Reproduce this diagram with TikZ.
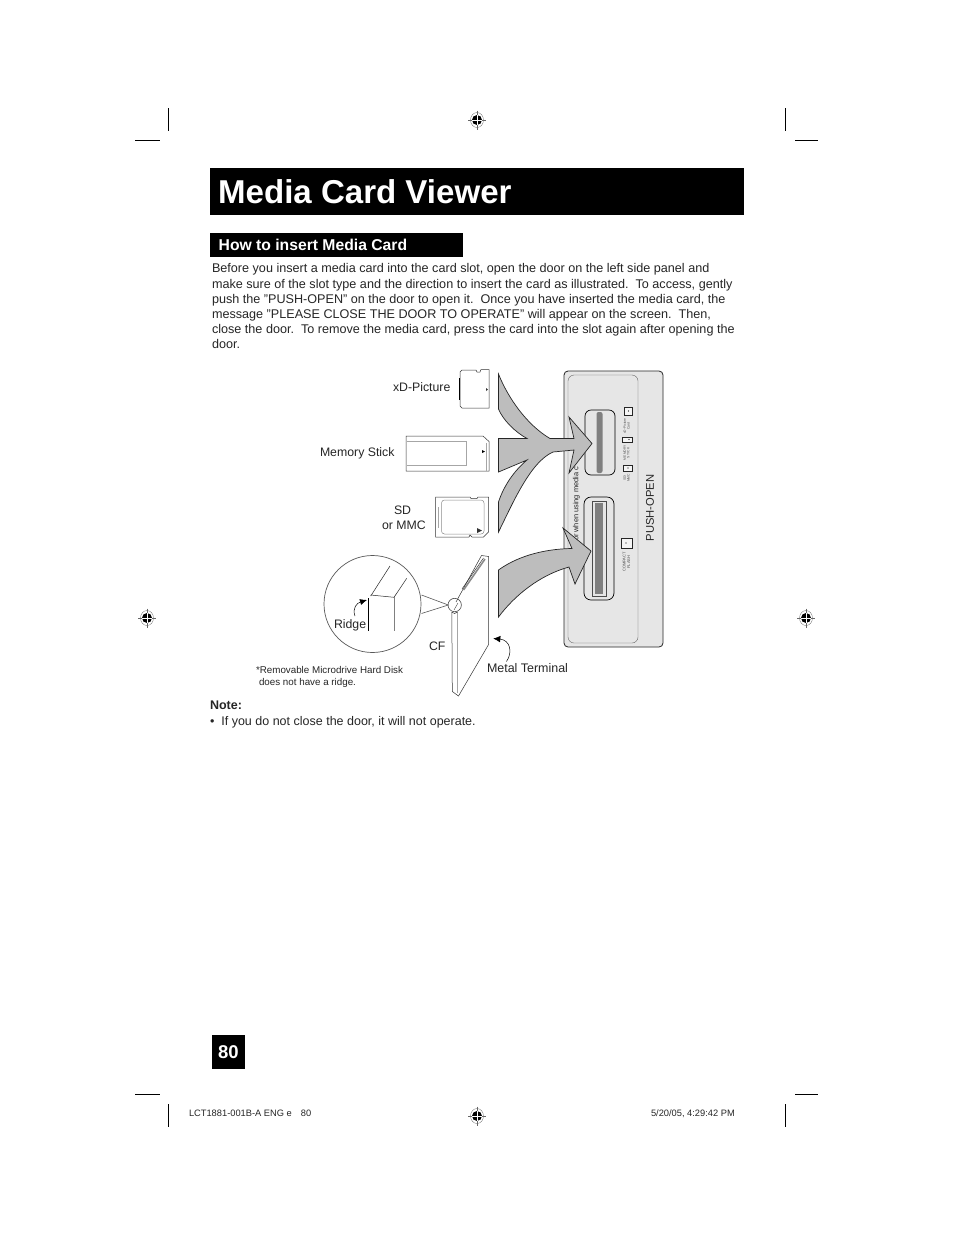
\documentclass[tikz,border=0pt]{standalone}
\usepackage{fontspec}
\setmainfont{Liberation Sans}
\usetikzlibrary{arrows.meta}
\definecolor{panelgray}{HTML}{E6E6E6}
\definecolor{arrowgray}{HTML}{BDBDBD}
\definecolor{slotgray}{HTML}{808080}
\tikzset{
  x=1pt,y=-1pt,
  txt/.style={anchor=base west,inner sep=0pt,outer sep=0pt,font=\fontsize{12.62}{14}\selectfont,text=black!85},
  lbl/.style={txt,font=\fontsize{12.3}{14}\selectfont},
  tiny/.style={txt,font=\fontsize{9.8}{11}\selectfont},
  slug/.style={txt,font=\fontsize{9.3}{11}\selectfont},
  micro/.style={anchor=center,inner sep=0pt,font=\fontsize{3.3}{3.7}\selectfont,rotate=90,align=center,text=black!70},
  bigarrow/.style={draw=black!85,fill=arrowgray,line width=.7pt,line join=miter},
  cardline/.style={draw=black!80,line width=.5pt},
  softline/.style={draw=black!35,line width=.7pt},
  icon/.style={draw=black!85,line width=.45pt,fill=panelgray!40},
  crop/.style={draw=black,line width=.7pt},
  regmark/.pic={
    \draw[black!60,line width=.3pt] (0,0) ellipse (6.5 and 7.5);
    \draw[black!60,line width=.3pt] (-9,0)--(9,0) (0,-9.5)--(0,9.5);
    \fill[black] (0,0) circle (5);
    \draw[white,line width=.9pt] (-5,0)--(5,0) (0,-5)--(0,5);
  }
}
\begin{document}
\begin{tikzpicture}
\useasboundingbox (0,0) rectangle (954,1235);
\fill[white] (0,0) rectangle (954,1235);

% crop marks
\draw[crop] (168.5,108)--(168.5,131) (785.5,108)--(785.5,131)
            (135,140.5)--(160,140.5) (795,140.5)--(818,140.5)
            (168.5,1104)--(168.5,1127) (785.5,1104)--(785.5,1127)
            (135,1094.5)--(160,1094.5) (795,1094.5)--(818,1094.5);
\pic at (477,120) {regmark};
\pic at (477,1116) {regmark};
\pic at (147,618) {regmark};
\pic at (806,618) {regmark};

% title
\fill[black] (210,168) rectangle (744,215);
\node[anchor=base west,inner sep=0pt,text=white,font=\fontsize{33.05}{36}\bfseries\selectfont] (title) at (218,203.5) {Media Card Viewer};
\fill[black] (210,233) rectangle (463,257);
\node[anchor=base west,inner sep=0pt,text=white,font=\fontsize{15.7}{17}\bfseries\selectfont] (head) at (218.5,250) {How to insert Media Card};

% body
\node[txt] (b1) at (212,272) {Before you insert a media card into the card slot, open the door on the left side panel and};
\node[txt] (b2) at (212,288) {make sure of the slot type and the direction to insert the card as illustrated.\ \ To access, gently};
\node[txt] (b3) at (212,303) {push the "PUSH-OPEN" on the door to open it.\ \ Once you have inserted the media card, the};
\node[txt] (b4) at (212,318) {message "PLEASE CLOSE THE DOOR TO OPERATE" will appear on the screen.\ \ Then,};
\node[txt] (b5) at (212,333) {close the door.\ \ To remove the media card, press the card into the slot again after opening the};
\node[txt] (b6) at (212,348) {door.};

% panel
\draw[draw=black!85,fill=panelgray,line width=.8pt,rounded corners=4pt] (564,371) rectangle (663,647);
\draw[draw=black!60,line width=.4pt,rounded corners=6pt] (568,375) rectangle (638,643);
\node[anchor=center,inner sep=0pt,rotate=90,font=\fontsize{11.2}{13}\selectfont,text=black!85] (push) at (650,508) {PUSH-OPEN};
\node[anchor=center,inner sep=0pt,rotate=90,font=\fontsize{7.4}{9}\selectfont,text=black!85] (note2) at (576.5,505) {for when using media c};

% slots
\draw[black,line width=.7pt,fill=panelgray,rounded corners=6pt] (585,410) rectangle (615,475);
\fill[slotgray,rounded corners=2pt] (596.5,412) rectangle (602.5,473);
\draw[black,line width=.7pt,fill=panelgray,rounded corners=7pt] (584,497) rectangle (614,600);
\draw[black!70,line width=.4pt] (592,501) rectangle (606,596);
\fill[slotgray] (595,503) rectangle (603,594);

% mini icons
\draw[icon] (624.5,407) rectangle (632,415);
\fill[black] (628.5,411) circle (.6);
\draw[icon] (622,437) rectangle (632,442);
\fill[black] (629,439.5) circle (.6);
\draw[icon] (623,465) rectangle (632,471);
\fill[black] (628,468) circle (.6);
\draw[icon] (621,538) rectangle (632,548);
\fill[black] (626,543) circle (.7);
\node[micro] (m1) at (626.5,426) {xD-Picture\\Card};
\node[micro] (m2) at (626.5,453) {M EMORY\\S TICK};
\node[micro] (m3) at (626.5,478) {SD/\\MMC};
\node[micro,font=\fontsize{4}{4.6}\selectfont] (m4) at (626.5,562) {COMPACT\\FLASH};

% big arrows
\draw[bigarrow] (498.5,374)
  .. controls (508,398) and (527,425) .. (550,438.5)
  -- (574,438.5) -- (569,417) -- (592,443.5) -- (569,473) -- (574,450)
  -- (553,452)
  .. controls (530,462) and (512,505) .. (498.5,532)
  -- (498.5,502)
  .. controls (504,485) and (515,470) .. (527,460)
  -- (498.5,472) -- (498.5,438.5) -- (527,438.5)
  .. controls (515,432) and (503,420) .. (498.5,409)
  -- cycle;
\draw[bigarrow] (498.5,570)
  .. controls (515,558) and (540,549) .. (572,548.5)
  -- (563,528) -- (591,551) -- (575,584) -- (569,567)
  .. controls (540,575) and (515,595) .. (498.5,617)
  -- cycle;

% xD card
\draw[cardline] (460,372) -- (462,370) -- (476,370) -- (477,372) -- (480,372) -- (481,369.5) -- (489,369.5) -- (489,408) -- (462,408) -- (460,406) -- cycle;
\draw[black,line width=.6pt] (458.8,378) -- (458.8,400);
\fill[black!80] (486,388) -- (488,389.5) -- (486,391) -- cycle;
\node[lbl] (xd) at (393,391) {xD-Picture};

% memory stick
\draw[cardline] (406,436) -- (483,436) -- (489,441.5) -- (489,471) -- (406,471) -- cycle;
\draw[softline] (407,441) -- (466.5,441) -- (466.5,465.5) -- (407,465.5);
\draw[softline] (486,443) -- (486,471);
\fill[black] (482,450) -- (485,451.5) -- (482,453) -- cycle;
\node[lbl] (ms) at (320,456) {Memory Stick};

% SD card
\draw[cardline] (435.5,497) -- (470,497) -- (471,498.5) -- (477,498.5) -- (478,497) -- (488.5,497) -- (488.5,532) -- (483.5,537) -- (472,537) -- (470,535) -- (469,537) -- (435.5,537) -- cycle;
\draw[draw=black!45,line width=.5pt,rounded corners=3pt] (441.5,500) rectangle (484,534);
\draw[softline,line width=1pt] (438,507) -- (438,528);
\fill[black!80] (477,528) -- (482,530.5) -- (477,533) -- cycle;
\node[lbl] (sd) at (394,514) {SD};
\node[lbl] (mmc) at (382,529) {or MMC};

% CF card
\draw[softline] (457.3,612) -- (457.3,693);
\draw[cardline] (456,602) -- (481.5,555.5) -- (488.7,556.5) -- (488.7,644.3) -- (458.5,696) -- (452.3,691.5) -- (451.8,612);
\draw[draw=black!45,line width=1.6pt] (463.5,590) -- (485,559);
\draw[black!80,line width=.5pt] (462,589) -- (483.5,558);
% callout
\draw[draw=black!65,line width=.6pt] (421.5,595) -- (448.3,605) -- (421.5,613.5);
\draw[draw=black!70,line width=.6pt] (454.7,605) circle (6.7);
\draw[cardline] (451.8,612) .. controls (453,614) and (456,614) .. (457.5,612);
\draw[black!70,line width=.4pt] (454,610) -- (458,603);

% magnifier
\draw[draw=black!65,line width=.7pt,fill=white] (372.5,604) circle (48.5);
\draw[black,line width=1pt] (368.7,598) -- (368.7,631);
\draw[black!85,line width=.5pt] (370.7,596) -- (390,566) (370.7,595) -- (394,597.3) -- (406.7,578.3);
\draw[black!50,line width=.5pt] (394,597.3) -- (394,631);
\node[lbl] (ridge) at (334,628) {Ridge};
\coordinate (ridgetail) at (355,616);
\coordinate (ridgetip) at (367,600);
\draw[black,line width=.5pt,-{Latex[length=7pt,width=6pt]}] (ridgetail) .. controls (352,608) and (357,603) .. (ridgetip);

% labels
\node[lbl] (cf) at (429,650) {CF};
\node[lbl,font=\fontsize{12.45}{14}\selectfont] (mt) at (487,672) {Metal Terminal};
\coordinate (mtail) at (506.5,661.5);
\coordinate (mtip) at (493.3,638.5);
\draw[black,line width=.5pt,-{Latex[length=7pt,width=6.5pt]}] (mtail) .. controls (513,652) and (510,640) .. (mtip);
\node[tiny] (rem1) at (256,673) {*Removable Microdrive Hard Disk};
\node[tiny] (rem2) at (259,685) {does not have a ridge.};

% note
\node[txt,font=\fontsize{12.5}{14}\bfseries\selectfont] (noteh) at (210,709.5) {Note:};
\node[txt,font=\fontsize{12.5}{14}\selectfont] (notet) at (210,725) {•\hspace{7pt}If you do not close the door, it will not operate.};

% page number
\fill[black] (212,1035) rectangle (245,1069);
\node[anchor=center,inner sep=0pt,text=white,font=\fontsize{18.5}{21}\bfseries\selectfont] (pg) at (228.5,1052) {80};

% slug
\node[slug] (s1) at (189,1116) {LCT1881-001B-A ENG e\hspace{9pt}80};
\node[slug] (s2) at (651,1116) {5/20/05, 4:29:42 PM};
\end{tikzpicture}
\end{document}
